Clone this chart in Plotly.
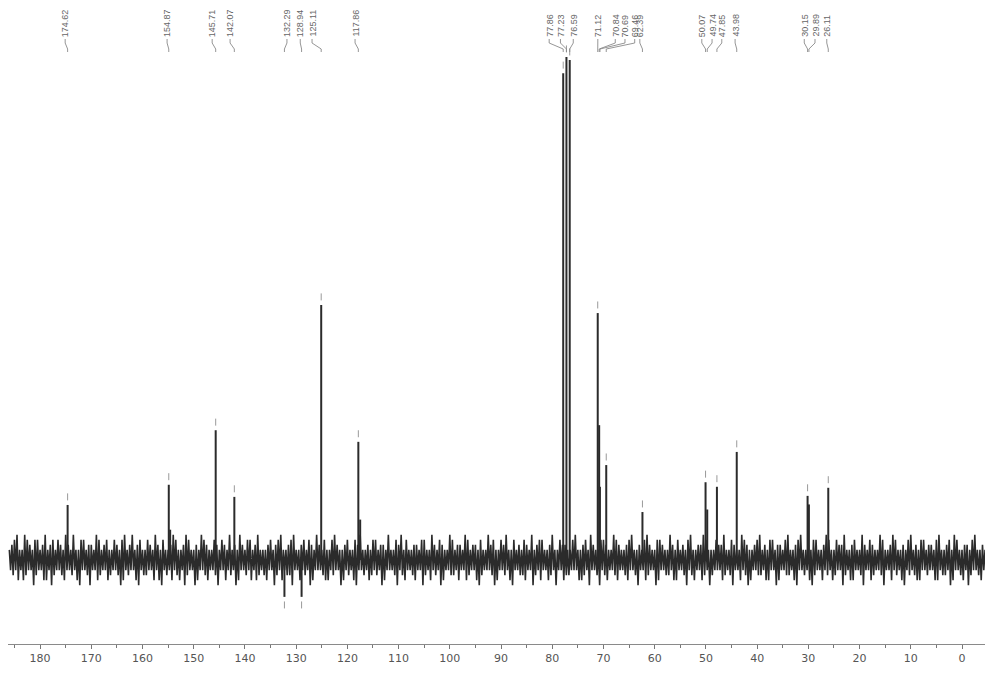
import plotly.graph_objects as go

# ---------------- data ----------------
# baseline noise (intensity units, tallest peak = 100)
# NOISE_HI: upward excursions, every 0.5 ppm from 186.0
# NOISE_LO: downward excursions, every 0.5 ppm from 185.75
NOISE_HI = [
 2,3,4,5,2,2,5,4,3,2,4,4,2,3,5,2,3,4,2,4,
 3,2,5,3,2,5,2,2,4,4,2,3,3,2,5,4,2,3,4,2,
 2,4,3,2,4,5,2,3,5,2,3,4,2,2,4,3,2,5,3,2,
 4,2,2,3,5,4,2,2,3,5,4,2,2,3,2,5,4,3,2,2,
 4,3,2,4,3,2,5,2,3,2,5,3,2,4,4,2,3,5,2,2,
 2,3,4,2,3,4,5,2,2,3,4,5,2,2,3,4,2,4,3,2,
 5,3,2,4,2,2,4,5,3,2,2,3,4,2,2,4,3,5,2,2,
 3,2,4,4,2,3,3,2,5,2,2,4,3,5,2,4,2,2,3,3,
 2,4,4,2,2,5,3,2,4,3,2,2,5,4,2,3,3,2,5,4,
 2,3,3,2,4,2,2,5,3,4,2,2,4,3,5,2,2,4,2,3,
 2,4,3,2,5,2,3,4,4,2,2,3,5,2,2,4,3,3,2,2,
 4,5,2,2,3,4,2,5,3,2,2,4,4,3,2,2,5,4,3,2,
 2,3,4,5,2,2,3,2,4,5,3,2,2,4,4,3,2,2,5,3,
 2,4,2,3,2,4,5,2,2,3,3,5,4,2,2,2,4,3,3,5,
 2,2,4,3,2,2,5,4,3,2,2,3,4,5,2,3,2,4,4,2,
 3,3,2,4,5,2,2,3,4,5,2,2,3,2,4,4,2,2,3,5,
 4,2,2,4,3,3,5,2,2,3,4,2,2,5,3,2,4,3,2,2,
 5,4,2,2,3,5,4,2,2,3,2,4,5,2,3,2,4,4,2,3,
 3,2,4,5,2,2,3,4,2,5,4,2,2,3,3,2,4,5,2,2,
 3,2,
]
NOISE_LO = [
 -2,-3,-2,-4,-2,-4,-3,-2,-2,-5,-3,-2,-2,-4,-4,-2,-5,-3,-2,-2,
 -3,-4,-2,-2,-3,-2,-4,-5,-2,-2,-3,-5,-2,-2,-4,-3,-2,-2,-4,-3,
 -2,-2,-3,-5,-4,-2,-3,-2,-2,-4,-5,-2,-3,-3,-2,-2,-4,-2,-4,-5,
 -2,-3,-2,-4,-2,-3,-4,-2,-5,-3,-2,-2,-5,-4,-2,-2,-3,-4,-2,-2,
 -3,-5,-2,-2,-4,-2,-3,-2,-5,-4,-2,-2,-3,-2,-4,-2,-4,-3,-2,-3,
 -4,-2,-2,-5,-3,-2,-4,-2,-3,-3,-5,-2,-2,-4,-2,-3,-2,-5,-4,-2,
 -2,-2,-3,-4,-4,-2,-3,-2,-2,-5,-4,-2,-3,-2,-4,-5,-2,-2,-3,-2,
 -4,-3,-2,-3,-2,-5,-4,-2,-2,-2,-3,-5,-2,-3,-4,-2,-2,-3,-4,-2,
 -2,-5,-3,-2,-4,-2,-3,-2,-5,-4,-2,-2,-3,-3,-2,-4,-2,-2,-4,-3,
 -2,-2,-4,-5,-3,-2,-2,-2,-3,-5,-4,-2,-2,-3,-2,-4,-5,-2,-2,-3,
 -3,-4,-2,-2,-5,-3,-2,-4,-2,-2,-4,-3,-2,-5,-2,-2,-4,-3,-3,-2,
 -2,-2,-4,-4,-3,-2,-5,-2,-2,-3,-5,-2,-3,-4,-2,-2,-3,-4,-2,-2,
 -3,-4,-2,-2,-3,-5,-2,-2,-4,-3,-2,-2,-5,-4,-2,-2,-3,-3,-2,-4,
 -4,-2,-2,-3,-5,-2,-3,-4,-2,-2,-4,-3,-2,-5,-3,-2,-2,-2,-4,-3,
 -2,-3,-5,-2,-2,-4,-2,-3,-5,-4,-2,-2,-3,-3,-2,-4,-4,-2,-2,-5,
 -4,-2,-2,-3,-3,-2,-4,-5,-2,-2,-3,-2,-4,-5,-3,-2,-2,-4,-2,-3,
 -2,-4,-3,-2,-2,-5,-3,-2,-4,-4,-2,-2,-3,-5,-2,-2,-4,-3,-2,-2,
 -3,-5,-2,-2,-4,-2,-3,-2,-4,-5,-2,-3,-2,-3,-4,-4,-2,-2,-3,-2,
 -2,-4,-4,-2,-3,-3,-2,-5,-4,-2,-2,-3,-4,-2,-5,-3,-2,-2,-3,-4,
 -2,-2,
]
NOISE_HI_START = 186.0
NOISE_LO_START = 185.75
NOISE_STEP = 0.5

PEAK_PPM = [174.62, 154.87, 154.6, 145.71, 142.07, 132.29, 128.94, 125.11,
            117.86, 117.5, 77.86, 77.23, 76.59, 71.12, 70.84, 70.69, 69.46,
            62.39, 50.07, 49.74, 47.85, 43.98, 30.15, 29.89, 26.11]
PEAK_H = [10.9, 14.9, 6.0, 25.7, 12.5, -7.3, -7.3, 50.5,
          23.4, 8.0, 96.4, 99.6, 99.0, 48.9, 26.7, 14.5, 18.8,
          9.5, 15.4, 10.0, 14.5, 21.4, 12.7, 11.0, 14.3]
PEAK_PICKED = [True, True, False, True, True, True, True, True,
               True, False, True, True, True, True, False, False, True,
               True, True, False, True, True, True, False, True]

LABELS = ["174.62", "154.87", "145.71", "142.07", "132.29", "128.94", "125.11",
          "117.86", "77.86", "77.23", "76.59", "71.12", "70.84", "70.69", "69.46",
          "62.39", "50.07", "49.74", "47.85", "43.98", "30.15", "29.89", "26.11"]
LABEL_PEAK = [174.62, 154.87, 145.71, 142.07, 132.29, 128.94, 125.11,
              117.86, 77.86, 77.23, 76.59, 71.12, 70.84, 70.69, 69.46,
              62.39, 50.07, 49.74, 47.85, 43.98, 30.15, 29.89, 26.11]

TICK_VALS = list(range(0, 190, 10))

# ---------------- layout constants ----------------
# spread-out label positions (ppm) used only for label placement
LABEL_POS = [175.1, 155.2, 146.4, 142.9, 131.8, 129.2, 126.9,
             118.5, 80.6, 78.4, 75.9, 71.1, 67.7, 65.8, 63.9,
             62.9, 50.8, 48.8, 46.9, 44.3, 30.8, 28.7, 26.4]

H = 675
B_MARGIN = 31
PLOT_H = H - B_MARGIN          # 644 px
BASE_PX = 560                   # baseline pixel row
PX_PER_UNIT = 5.05
Y_TOP = BASE_PX / PX_PER_UNIT
Y_BOT = -(PLOT_H - BASE_PX) / PX_PER_UNIT


def u(px):
    return (BASE_PX - px) / PX_PER_UNIT


noise_x, noise_y = [], []
for i, (hi, lo) in enumerate(zip(NOISE_HI, NOISE_LO)):
    noise_x += [NOISE_HI_START - i * NOISE_STEP, NOISE_LO_START - i * NOISE_STEP]
    noise_y += [hi, lo]

fig = go.Figure()

fig.add_trace(go.Scatter(x=noise_x, y=noise_y, mode="lines",
                         line=dict(color="#2b2b2b", width=1.6, simplify=False),
                         hoverinfo="skip", showlegend=False))

sx, sy = [], []
for p, h in zip(PEAK_PPM, PEAK_H):
    sx += [p, p, None]
    sy += [0, h, None]
fig.add_trace(go.Scatter(x=sx, y=sy, mode="lines",
                         line=dict(color="#2b2b2b", width=2, simplify=False),
                         hoverinfo="skip", showlegend=False))

# peak-pick ticks above each peak
mx, my = [], []
for p, h, pk in zip(PEAK_PPM, PEAK_H, PEAK_PICKED):
    if pk:
        mx.append(p)
        my.append(h + 1.6 if h > 0 else h - 1.6)
fig.add_trace(go.Scatter(x=mx, y=my, mode="markers",
                         marker=dict(symbol="line-ns", size=5,
                                     line=dict(color="#999999", width=1)),
                         hoverinfo="skip", showlegend=False))

# connectors from labels to peaks
cx, cy = [], []
for lp, pp in zip(LABEL_POS, LABEL_PEAK):
    cx += [lp, lp, pp, pp, None]
    cy += [u(39), u(43), u(49), u(52), None]
fig.add_trace(go.Scatter(x=cx, y=cy, mode="lines",
                         line=dict(color="#8a8a8a", width=0.9),
                         hoverinfo="skip", showlegend=False))

for lab, lp in zip(LABELS, LABEL_POS):
    fig.add_annotation(x=lp, y=u(39), xref="x", yref="y", text=lab,
                       textangle=-90, showarrow=False, xanchor="center",
                       yanchor="bottom",
                       font=dict(family="Liberation Sans", size=9, color="#666666"))

fig.update_layout(
    width=985, height=H,
    margin=dict(l=8, r=0, t=0, b=B_MARGIN),
    paper_bgcolor="white", plot_bgcolor="white",
    xaxis=dict(range=[186.26, -4.49], tickvals=TICK_VALS,
               ticks="outside", ticklen=4, tickcolor="#777777",
               showline=True, linecolor="#8a8a8a", linewidth=1,
               showgrid=False, zeroline=False,
               minor=dict(dtick=5, tick0=0, ticks="outside", ticklen=3,
                          tickcolor="#777777", showgrid=False),
               tickfont=dict(family="DejaVu Sans", size=11, color="#555555")),
    yaxis=dict(range=[Y_BOT, Y_TOP], visible=False, showgrid=False,
               zeroline=False, fixedrange=True),
)

fig.write_html("out.html", config={"displayModeBar": False},
               post_script="document.body.style.margin='0';document.body.style.overflow='hidden';")
